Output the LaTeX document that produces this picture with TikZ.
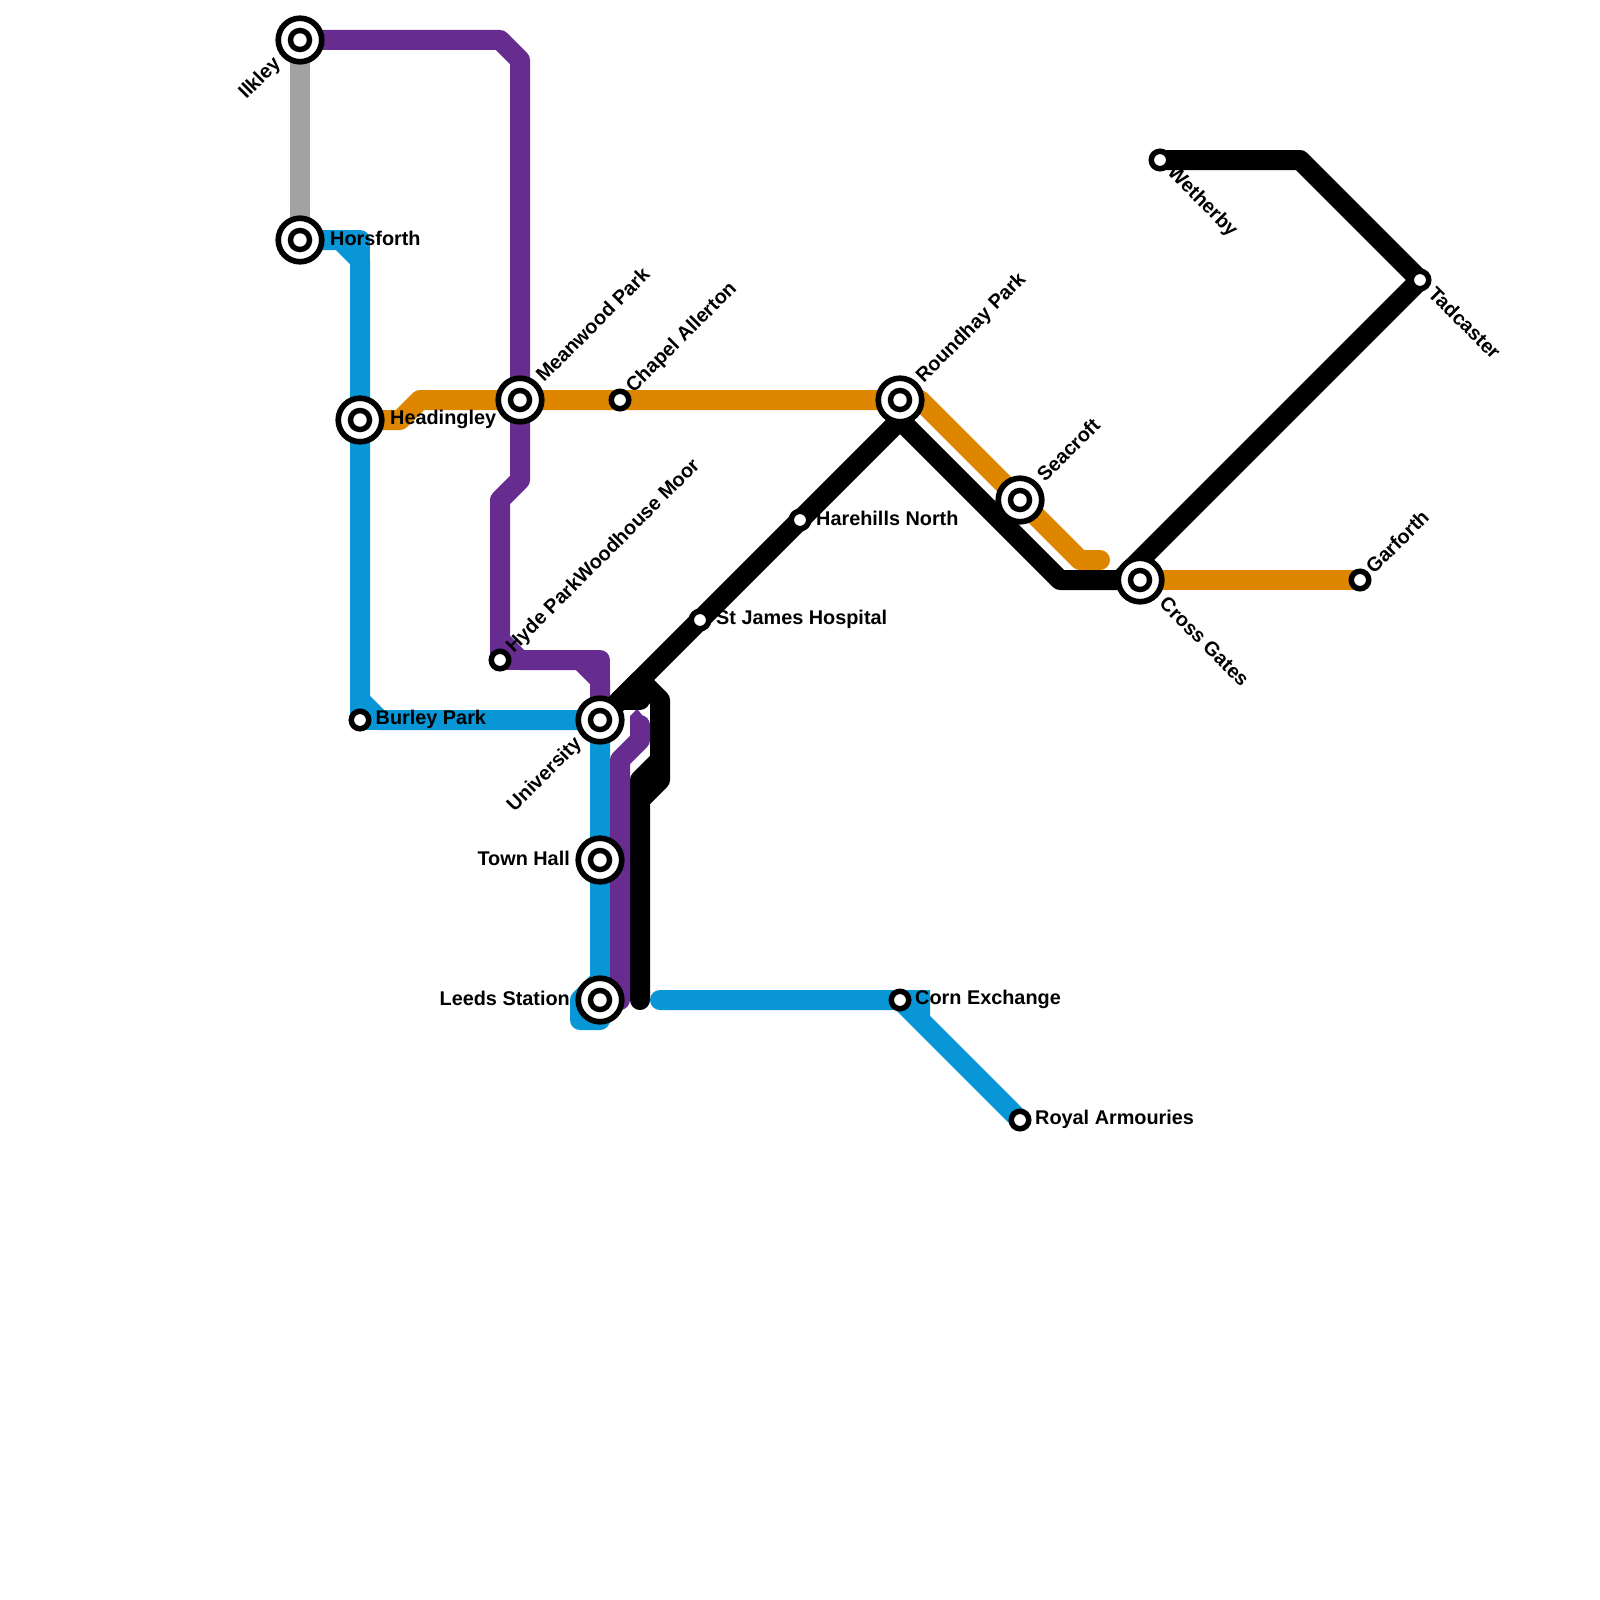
\documentclass[tikz,border=0pt]{standalone}
\usepackage{fontspec}
\setmainfont{Liberation Sans}
\definecolor{lineblue}{HTML}{0896D7}
\definecolor{linepurple}{HTML}{662C90}
\definecolor{lineorange}{HTML}{DF8600}
\definecolor{linegrey}{HTML}{A2A2A2}
\pgfdeclarelayer{lines}
\pgfsetlayers{lines,main}
\tikzset{
  routeline/.style={line width=20pt, line join=round, line cap=round},
  bigstop/.style={circle, draw=black, fill=white, line width=5.7pt, minimum size=43.5pt, inner sep=0pt,
    path picture={\fill[black] (path picture bounding box.center) circle (12.3pt);
      \fill[white] (path picture bounding box.center) circle (6.7pt);}},
  smallstop/.style={circle, draw=black, fill=white, line width=5.5pt, minimum size=17.5pt, inner sep=0pt},
  stoplabel/.style={font=\bfseries\fontsize{19.85}{22}\selectfont, text=black, inner sep=0pt}
}
\begin{document}
\begin{tikzpicture}[x=1pt,y=-1pt]
\useasboundingbox (0,0) rectangle (1600,1600);

% free line ends
\coordinate (blueend) at (660,1000);
\coordinate (orangeend) at (1100,560);
\coordinate (purpleend) at (640,725);
\coordinate (purplefoot) at (620,1000);
\coordinate (blackfoot) at (640,1000);
\coordinate (blackjoin) at (900,420);

% stations
\node[bigstop] (ilkley) at (300,40) {};
\node[bigstop] (horsforth) at (300,240) {};
\node[bigstop] (headingley) at (360,420) {};
\node[bigstop] (meanwood) at (520,400) {};
\node[smallstop] (chapel) at (620,400) {};
\node[bigstop] (roundhay) at (900,400) {};
\node[bigstop] (seacroft) at (1020,500) {};
\node[bigstop] (crossgates) at (1140,580) {};
\node[smallstop] (garforth) at (1360,580) {};
\node[smallstop] (tadcaster) at (1420,280) {};
\node[smallstop] (wetherby) at (1160,160) {};
\node[smallstop] (harehills) at (800,520) {};
\node[smallstop] (stjames) at (700,620) {};
\node[smallstop] (hydepark) at (500,660) {};
\node[smallstop] (burley) at (360,720) {};
\node[bigstop] (university) at (600,720) {};
\node[bigstop] (townhall) at (600,860) {};
\node[bigstop] (leeds) at (600,1000) {};
\node[smallstop] (corn) at (900,1000) {};
\node[smallstop] (armouries) at (1020,1120) {};

% lines go behind the stations
\begin{pgfonlayer}{lines}
\fill[white] (0,0) rectangle (1600,1600);
\draw[routeline, linegrey] (ilkley.center) -- (horsforth.center);

\draw[routeline, lineblue] (horsforth.center) -- (340,240) -- (360,260) -- (360,700) -- (380,720) -- (university.center) -- (townhall.center) -- (600,980) -- (580,1000) -- (580,1020) -- (600,1020) -- (leeds.center);
\draw[routeline, lineblue] (340,240) -- (360,240) -- (360,260);
\draw[routeline, lineblue] (360,700) -- (burley.center) -- (380,720);
\draw[routeline, lineblue] (blueend) -- (corn.center) -- (armouries.center);
\fill[lineblue] (900,990) -- (930,990) -- (930,1017) -- (900,1010) -- cycle;

\draw[routeline, lineorange] (headingley.center) -- (400,420) -- (420,400) -- (meanwood.center) -- (chapel.center) -- (roundhay.center) -- (920,400) -- (seacroft.center) -- (1080,560) -- (orangeend);
\draw[routeline, lineorange] (crossgates.center) -- (garforth.center);

\draw[routeline, linepurple] (ilkley.center) -- (500,40) -- (520,60) -- (meanwood.center) -- (520,480) -- (500,500) -- (500,640) -- (520,660) -- (580,660) -- (600,680) -- (university.center);
\draw[routeline, linepurple] (500,640) -- (hydepark.center) -- (520,660);
\draw[routeline, linepurple] (580,660) -- (600,660) -- (600,680);

\draw[routeline, black] (wetherby.center) -- (1300,160) -- (tadcaster.center) -- (1120,580) -- (1060,580) -- (blackjoin) -- (stjames.center) -- (university.center);
\draw[routeline, black] (1120,580) -- (crossgates.center);
\draw[routeline, black] (620,700) -- (640,700);
\draw[routeline, black] (620,700) -- (640,680) -- (660,700) -- (660,780) -- (640,800) -- (blackfoot);
\draw[routeline, black] (660,760) -- (640,780) -- (640,800);

\draw[routeline, linepurple] (purplefoot) -- (620,760) -- (640,740) -- (purpleend);
\fill[linepurple] (630,725) -- (630,716) -- (636,710) -- (638,710) -- (650,725) -- cycle;
\end{pgfonlayer}

% labels
\node[stoplabel, rotate=45, anchor=east] (ilkleylabel) at (278,61) {Ilkley};
\node[stoplabel, anchor=west] (horsforthlabel) at (330,238) {Horsforth};
\node[stoplabel, anchor=west] (headingleylabel) at (390,419) {Headingley};
\node[stoplabel, rotate=45, anchor=west] (meanwoodlabel) at (539,378) {Meanwood Park};
\node[stoplabel, rotate=45, anchor=west] (chapellabel) at (630,390) {Chapel Allerton};
\node[stoplabel, rotate=45, anchor=west] (roundhaylabel) at (920,380) {Roundhay Park};
\node[stoplabel, rotate=45, anchor=west] (seacroftlabel) at (1040,478) {Seacroft};
\node[stoplabel, rotate=45, anchor=west] (hydeparklabel) at (510,650) {Hyde ParkWoodhouse Moor};
\node[stoplabel, rotate=45, anchor=west] (garforthlabel) at (1369,570) {Garforth};
\node[stoplabel, rotate=-45, anchor=west] (wetherbylabel) at (1170,170) {Wetherby};
\node[stoplabel, rotate=-45, anchor=west] (tadcasterlabel) at (1432,290) {Tadcaster};
\node[stoplabel, rotate=-45, anchor=west] (crossgateslabel) at (1163,600) {Cross Gates};
\node[stoplabel, anchor=west] (harehillslabel) at (816,518) {Harehills North};
\node[stoplabel, anchor=west] (stjameslabel) at (716,619) {St James Hospital};
\node[stoplabel, anchor=west] (burleylabel) at (375.5,719) {Burley Park};
\node[stoplabel, rotate=45, anchor=east] (universitylabel) at (579,741) {University};
\node[stoplabel, anchor=east] (townhalllabel) at (570,858) {Town Hall};
\node[stoplabel, anchor=east] (leedslabel) at (570,998) {Leeds Station};
\node[stoplabel, anchor=west] (cornlabel) at (915,999) {Corn Exchange};
\node[stoplabel, anchor=west] (armourieslabel) at (1035,1119) {Royal Armouries};
\end{tikzpicture}
\end{document}
